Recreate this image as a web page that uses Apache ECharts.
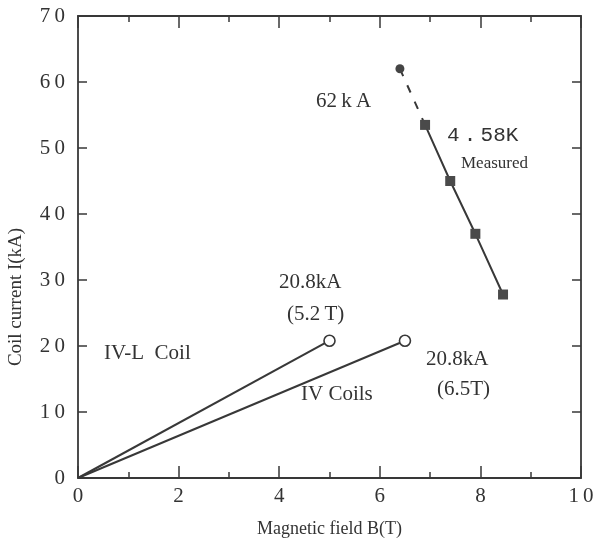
<!DOCTYPE html>
<html>
<head>
<meta charset="utf-8">
<script src="https://cdn.jsdelivr.net/npm/echarts@6/dist/echarts.min.js"></script>
<style>
  html, body { margin: 0; padding: 0; background: #fff; }
  #main { width: 595px; height: 543px; }
</style>
</head>
<body>
<div id="main"></div>
<script>
// IV-L coil load line
var ivl_B = [0, 5.0];
var ivl_I = [0, 20.8];
// IV coils load line
var iv_B = [0, 6.5];
var iv_I = [0, 20.8];
// 4.58K measured points
var meas_B = [6.9, 7.4, 7.9, 8.45];
var meas_I = [53.5, 45, 37, 27.8];
// extrapolated 62kA point
var extra_B = [6.4];
var extra_I = [62];

var x_ticks = [0, 2, 4, 6, 8, 10];
var y_ticks = [0, 10, 20, 30, 40, 50, 60, 70];

function pairs(xs, ys) {
    var out = [];
    for (var i = 0; i < xs.length; i++) out.push([xs[i], ys[i]]);
    return out;
}
function spaced(v) {
    return String(v).split("").join("\u2009");
}

var ink = "#383838";
var serif = "Liberation Serif";

var chart = echarts.init(document.getElementById("main"));

var ivl_data = pairs(ivl_B, ivl_I).map(function (p, i) {
    return i == 0 ? { value: p, symbol: "none" } : p;
});
var iv_data = pairs(iv_B, iv_I).map(function (p, i) {
    return i == 0 ? { value: p, symbol: "none" } : p;
});
var dash_data = [
    { value: [extra_B[0], extra_I[0]], symbol: "circle", symbolSize: 9 },
    { value: [meas_B[0], meas_I[0]], symbol: "none" },
];

var tickLine = { color: ink, width: 1.5 };

var option = {
    animation: false,
    grid: { left: 78, right: 14, top: 16, bottom: 65, outerBoundsMode: "none", containLabel: false },
    xAxis: [
        {
            type: "value", min: 0, max: 10, interval: 2,
            axisLine: { onZero: false, lineStyle: { color: ink, width: 1.8 } },
            axisTick: { inside: true, length: 12, lineStyle: tickLine },
            minorTick: { show: true, splitNumber: 2, length: 6, lineStyle: tickLine },
            splitLine: { show: false },
            axisLabel: {
                color: "#333", fontFamily: serif, fontSize: 21, margin: 8,
                formatter: function (v) { return spaced(v); },
            },
            name: "Magnetic field B(T)",
            nameLocation: "middle", nameGap: 42,
            nameTextStyle: { color: "#333", fontFamily: serif, fontSize: 18 },
        },
        {
            type: "value", min: 0, max: 10, interval: 2, position: "top",
            axisLine: { onZero: false, lineStyle: { color: ink, width: 1.8 } },
            axisTick: { inside: true, length: 12, lineStyle: tickLine },
            minorTick: { show: true, splitNumber: 2, length: 6, lineStyle: tickLine },
            splitLine: { show: false },
            axisLabel: { show: false },
        },
    ],
    yAxis: [
        {
            type: "value", min: 0, max: 70, interval: 10,
            axisLine: { onZero: false, lineStyle: { color: ink, width: 1.8 } },
            axisTick: { inside: true, length: 9, lineStyle: tickLine },
            splitLine: { show: false },
            axisLabel: {
                color: "#333", fontFamily: serif, fontSize: 21, margin: 13,
                formatter: function (v) { return spaced(v); },
            },
            name: "Coil current I(kA)",
            nameLocation: "middle", nameGap: 52,
            nameTextStyle: { color: "#333", fontFamily: serif, fontSize: 19, padding: [0, 100, 0, 0] },
        },
        {
            type: "value", min: 0, max: 70, interval: 10, position: "right",
            axisLine: { onZero: false, lineStyle: { color: ink, width: 1.8 } },
            axisTick: { inside: true, length: 9, lineStyle: tickLine },
            splitLine: { show: false },
            axisLabel: { show: false },
        },
    ],
    series: [
        {
            name: "IV-L Coil", type: "line", data: ivl_data,
            symbol: "circle", symbolSize: 11,
            itemStyle: { color: "#fff", borderColor: ink, borderWidth: 1.6 },
            lineStyle: { color: ink, width: 2 },
        },
        {
            name: "IV Coils", type: "line", data: iv_data,
            symbol: "circle", symbolSize: 11,
            itemStyle: { color: "#fff", borderColor: ink, borderWidth: 1.6 },
            lineStyle: { color: ink, width: 2 },
        },
        {
            name: "extrapolated", type: "line", data: dash_data,
            itemStyle: { color: "#444" },
            lineStyle: { color: ink, width: 2, type: [8, 10] },
        },
        {
            name: "Measured", type: "line", data: pairs(meas_B, meas_I),
            symbol: "rect", symbolSize: 10,
            itemStyle: { color: "#4a4a4a" },
            lineStyle: { color: ink, width: 2 },
        },
    ],
    graphic: [
        { type: "text", left: 316, top: 91, style: { text: "62\u2009k\u2009A", font: "21px " + serif, fill: "#333" } },
        { type: "text", left: 447, top: 125, style: { text: "4\u2009.\u200958K", font: "21px Liberation Mono", fill: "#333" } },
        { type: "text", left: 461, top: 155, style: { text: "Measured", font: "17px " + serif, fill: "#333" } },
        { type: "text", left: 279, top: 272, style: { text: "20.8kA", font: "21px " + serif, fill: "#333" } },
        { type: "text", left: 287, top: 304, style: { text: "(5.2\u2009T)", font: "21px " + serif, fill: "#333" } },
        { type: "text", left: 104, top: 343, style: { text: "IV-L  Coil", font: "21px " + serif, fill: "#333" } },
        { type: "text", left: 301, top: 384, style: { text: "IV Coils", font: "21px " + serif, fill: "#333" } },
        { type: "text", left: 426, top: 349, style: { text: "20.8kA", font: "21px " + serif, fill: "#333" } },
        { type: "text", left: 437, top: 379, style: { text: "(6.5T)", font: "21px " + serif, fill: "#333" } },
    ],
};

chart.setOption(option);
</script>
</body>
</html>
